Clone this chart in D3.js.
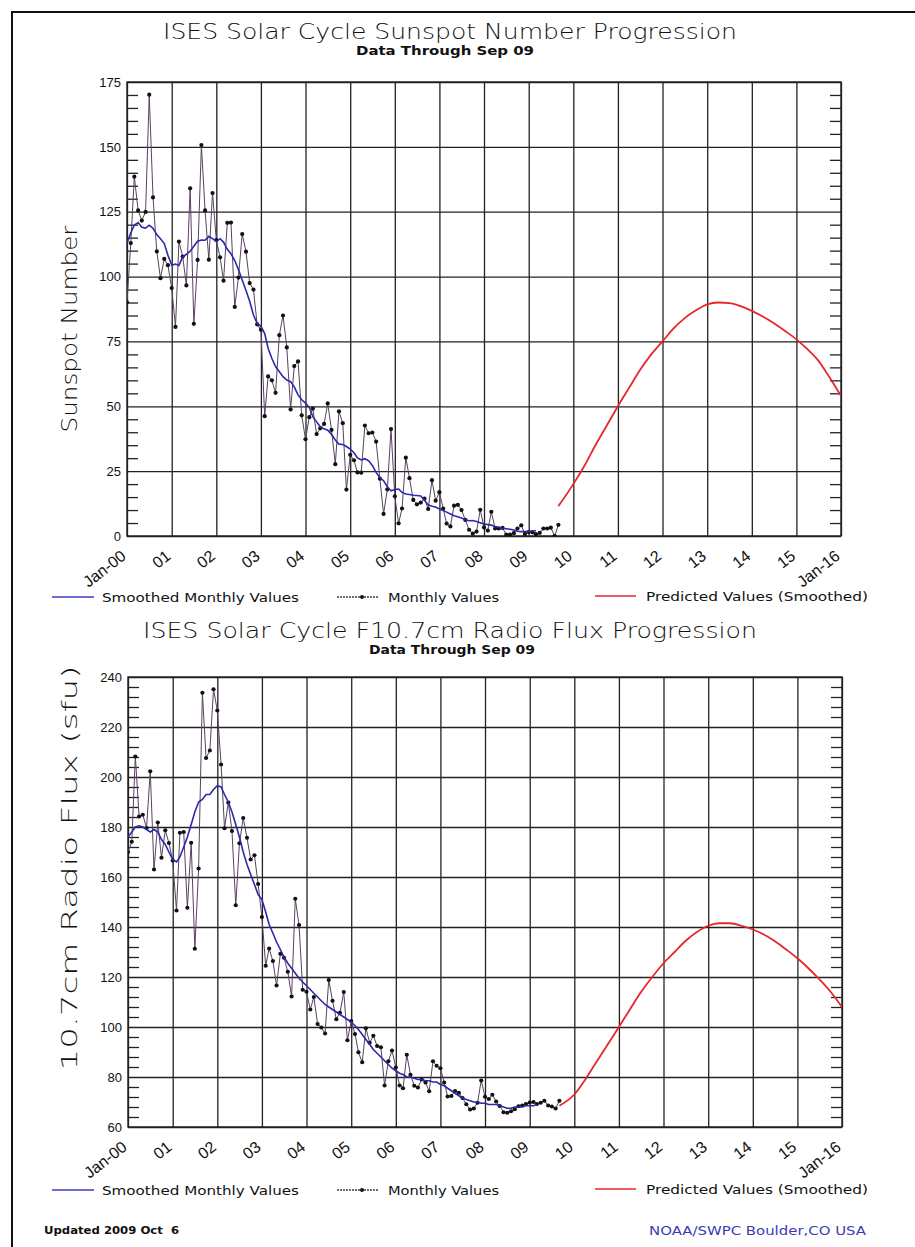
<!DOCTYPE html>
<html>
<head>
<meta charset="utf-8">
<script src="https://cdn.jsdelivr.net/npm/d3@7"></script>
<style>
  body { margin: 0; background: #fff; }
  text { font-family: "DejaVu Sans", "Liberation Sans", sans-serif; fill: #111; }
  .thin { font-weight: 200; }
  .cond { font-family: "DejaVu Sans Condensed", "DejaVu Sans", sans-serif; }
</style>
</head>
<body>
<svg width="915" height="1247"></svg>
<script>
// monthly values, Jan 2000 .. Sep 2009
const sunMonthly = [
  90.1, 112.9, 138.5, 125.5, 121.6, 124.9, 170.1, 130.5, 109.7, 99.4, 106.8, 104.4,
  95.6, 80.6, 113.5, 107.7, 96.6, 134.0, 81.8, 106.4, 150.7, 125.5, 106.5, 132.2,
  114.1, 107.4, 98.4, 120.7, 120.8, 88.3, 99.6, 116.4, 109.6, 97.5, 95.0, 81.6,
  79.5, 46.2, 61.5, 60.0, 55.2, 77.4, 85.0, 72.7, 48.8, 65.5, 67.3, 46.5,
  37.3, 45.8, 49.1, 39.3, 41.5, 43.2, 51.1, 40.9, 27.7, 48.0, 43.5, 17.9,
  31.3, 29.2, 24.5, 24.4, 42.6, 39.6, 39.9, 36.4, 22.1, 8.5, 18.0, 41.2,
  15.3, 4.9, 10.6, 30.2, 22.3, 13.9, 12.2, 12.9, 14.4, 10.4, 21.5, 13.6,
  16.9, 10.6, 4.8, 3.7, 11.7, 12.0, 10.0, 6.2, 2.4, 0.9, 1.7, 10.1,
  3.3, 2.1, 9.3, 2.9, 2.9, 3.1, 0.5, 0.5, 1.1, 2.9, 4.1, 0.8,
  1.5, 1.4, 0.7, 1.2, 2.9, 2.9, 3.2, 0.0, 4.3
];
// smoothed values, Jan 2000 .. Mar 2009
const sunSmoothed = [
  112.9, 116.8, 119.9, 120.8, 119.0, 118.7, 119.8, 118.6, 116.2, 114.6, 112.7, 108.2,
  104.4, 104.8, 104.3, 107.6, 108.6, 109.8, 111.7, 113.6, 114.1, 114.0, 115.5, 114.6,
  113.5, 114.6, 113.3, 110.5, 108.8, 106.2, 102.7, 98.7, 94.6, 90.5, 85.2, 82.0,
  80.8, 78.0, 72.4, 68.4, 65.3, 63.3, 61.4, 60.1, 59.5, 57.5, 54.4, 52.5,
  51.2, 49.5, 46.0, 44.0, 42.1, 41.3, 40.8, 39.1, 37.0, 35.4, 35.3, 34.5,
  33.5, 32.1, 30.1, 29.3, 29.8, 29.0, 27.2, 24.5, 22.5, 21.3, 19.0, 17.4,
  17.9, 18.1, 16.8, 16.2, 16.0, 15.7, 15.6, 15.4, 13.8, 12.0, 11.5, 11.2,
  10.4, 9.8, 9.2, 8.5, 7.8, 7.4, 6.9, 6.3, 5.9, 6.0, 5.6, 5.1,
  4.6, 4.4, 4.2, 3.6, 3.4, 3.0, 2.8, 2.6, 2.3, 1.8, 1.7, 1.7,
  1.8, 1.9, 2.0
];
const sunPredDates = [
  "2009-09", "2010-01", "2010-04", "2010-07", "2010-10", "2011-01", "2011-04", "2011-07", "2011-10",
  "2012-01", "2012-04", "2012-07", "2012-10", "2013-01", "2013-04", "2013-07", "2013-10",
  "2014-01", "2014-04", "2014-07", "2014-10", "2015-01", "2015-04", "2015-07", "2015-10", "2016-01"
];
const sunPredicted = [
  11.5, 20, 27, 35, 42.5, 50, 57, 64, 70,
  75, 80, 84, 87, 89.3, 90, 89.8, 88.6,
  86.8, 84.6, 82, 79, 75.8, 72, 67.5, 61, 54
];

const fluxMonthly = [
  170, 174.1, 208.2, 184.2, 184.9, 179.6, 202.3, 163.0, 181.8, 167.7, 178.7, 173.6,
  166.6, 146.6, 177.7, 178.0, 147.7, 173.7, 131.3, 163.4, 233.7, 207.6, 210.6, 235.1,
  226.6, 205.0, 179.5, 189.8, 178.4, 148.7, 173.5, 183.6, 175.7, 167.0, 168.7, 157.2,
  144.0, 124.5, 131.4, 126.4, 116.6, 129.3, 127.7, 122.1, 112.2, 151.3, 140.8, 114.9,
  114.1, 107.0, 112.0, 101.2, 99.8, 97.4, 118.8, 110.5, 103.1, 105.7, 114.0, 94.7,
  102.4, 97.2, 89.9, 85.9, 99.5, 93.7, 96.5, 92.4, 91.9, 76.6, 86.3, 90.6,
  83.8, 76.6, 75.5, 88.9, 80.9, 76.5, 75.8, 79.0, 77.8, 74.3, 86.3, 84.5,
  83.5, 77.8, 72.2, 72.4, 74.4, 73.7, 71.6, 69.1, 67.0, 67.4, 69.7, 78.6,
  72.1, 71.2, 72.9, 70.2, 68.4, 65.9, 65.7, 66.3, 67.1, 68.3, 68.6, 69.2,
  69.8, 70.0, 69.2, 69.7, 70.5, 68.6, 68.2, 67.4, 70.5
];
const fluxSmoothed = [
  176, 178, 180, 180.5, 180, 179, 178, 179, 178, 175, 173, 170,
  167, 166, 168, 172, 176, 181, 186, 190, 191, 193, 193, 195,
  196.5, 196, 193, 190, 186, 181, 176, 170, 165, 161, 157, 153,
  151, 146, 141, 137.5, 134, 131, 128, 125.5, 123.5, 121.5, 119.5, 118,
  116.5, 115, 113.5, 112, 110.5, 109, 108, 107, 106, 105, 104, 103,
  102, 100.5, 99, 97, 95, 93, 91, 89.5, 88, 86.5, 85, 83.5,
  82.5, 81.5, 81, 80, 80, 79.5, 79, 79, 78.5, 78.5, 78, 78,
  77, 76.5, 75.5, 74.5, 73.5, 72.5, 71.5, 71, 70.5, 70, 70, 69.5,
  69.5, 69, 69, 69, 68.5, 68, 67.5, 67.5, 68, 68, 68, 68.5,
  68.5, 68.5, 69
];
const fluxPredDates = sunPredDates;
const fluxPredicted = [
  68.5, 73, 79, 86, 93, 100, 107, 114, 120,
  125.5, 130, 134.5, 138, 140.5, 141.5, 141.5, 140.5,
  139, 137, 134.3, 131, 127.5, 123.5, 119, 114, 108
];

const yearLabels = ["Jan-00", "01", "02", "03", "04", "05", "06", "07", "08",
  "09", "10", "11", "12", "13", "14", "15", "Jan-16"];
const sunTicks = [0, 25, 50, 75, 100, 125, 150, 175];
const fluxTicks = [60, 80, 100, 120, 140, 160, 180, 200, 220, 240];

const svg = d3.select("svg");
const parseMonth = d3.timeParse("%Y-%m");
const years = d3.range(2000, 2017).map((y) => new Date(y, 0, 1));

// page frame
svg.append("rect")
  .attr("x", 12).attr("y", 12)
  .attr("width", 920).attr("height", 1250)
  .attr("fill", "none").attr("stroke", "#111").attr("stroke-width", 2);

function drawPanel(p) {
  const x = d3.scaleTime()
    .domain([years[0], years[years.length - 1]])
    .range([p.left, p.right]);
  const y = d3.scaleLinear().domain(p.yDomain).range([p.bottom, p.top]);
  const g = svg.append("g");

  // grid
  g.append("g")
    .attr("transform", `translate(0,${p.bottom})`)
    .call(d3.axisBottom(x).tickValues(years).tickSize(-(p.bottom - p.top)).tickFormat(""))
    .call((a) => a.select(".domain").remove())
    .call((a) => a.selectAll("line").attr("stroke", "#222").attr("stroke-width", 1.3));
  g.append("g")
    .attr("transform", `translate(${p.left},0)`)
    .call(d3.axisLeft(y).tickValues(p.ticks).tickSize(-(p.right - p.left)).tickFormat(""))
    .call((a) => a.select(".domain").remove())
    .call((a) => a.selectAll("line").attr("stroke", "#222").attr("stroke-width", 1.3));

  // minor ticks on both sides
  const minor = d3.range(p.yDomain[0], p.yDomain[1], p.minorStep)
    .filter((v) => !p.ticks.includes(v));
  g.append("g")
    .attr("transform", `translate(${p.left},0)`)
    .call(d3.axisLeft(y).tickValues(minor).tickSize(-11).tickFormat(""))
    .call((a) => a.select(".domain").remove())
    .call((a) => a.selectAll("line").attr("stroke", "#222").attr("stroke-width", 1.3));
  g.append("g")
    .attr("transform", `translate(${p.right},0)`)
    .call(d3.axisRight(y).tickValues(minor).tickSize(-11).tickFormat(""))
    .call((a) => a.select(".domain").remove())
    .call((a) => a.selectAll("line").attr("stroke", "#222").attr("stroke-width", 1.3));

  g.append("rect")
    .attr("x", p.left).attr("y", p.top)
    .attr("width", p.right - p.left).attr("height", p.bottom - p.top)
    .attr("fill", "none").attr("stroke", "#222").attr("stroke-width", 1.4);

  // y tick labels
  g.append("g")
    .attr("transform", `translate(${p.left},0)`)
    .call(d3.axisLeft(y).tickValues(p.ticks).tickSize(0).tickPadding(6))
    .call((a) => a.select(".domain").remove())
    .call((a) => a.selectAll("text")
      .style("font-family", "'Liberation Sans', sans-serif")
      .style("font-size", "13px").attr("fill", "#111"));

  // x tick labels (rotated)
  g.selectAll(".xl")
    .data(years)
    .enter()
    .append("text")
    .attr("class", "xl")
    .attr("transform", (d) => `translate(${x(d)},${p.bottom + 22}) rotate(-38)`)
    .attr("text-anchor", "end")
    .style("font-family", "'Liberation Sans', sans-serif")
    .style("font-size", "16px")
    .text((d, i) => yearLabels[i]);

  // data
  const monthly = p.monthly.map((v, i) => ({ date: new Date(2000, i, 1), v }));
  const smooth = p.smoothed.map((v, i) => ({ date: new Date(2000, i, 1), v }));
  const pred = p.predDates.map((d, i) => ({ date: parseMonth(d), v: p.predicted[i] }));

  const line = d3.line().x((d) => x(d.date)).y((d) => y(d.v));
  const clipId = "clip" + p.id;
  svg.append("clipPath").attr("id", clipId).append("rect")
    .attr("x", p.left).attr("y", p.top - 2)
    .attr("width", p.right - p.left).attr("height", p.bottom - p.top + 2);
  const data = g.append("g").attr("clip-path", `url(#${clipId})`);

  data.append("path").datum(monthly)
    .attr("d", line)
    .attr("fill", "none").attr("stroke", "#5a4060").attr("stroke-width", 1);
  data.selectAll(".dot").data(monthly).enter().append("circle")
    .attr("class", "dot")
    .attr("cx", (d) => x(d.date)).attr("cy", (d) => y(d.v))
    .attr("r", 2.1).attr("fill", "#111");
  data.append("path").datum(smooth)
    .attr("d", line)
    .attr("fill", "none").attr("stroke", "#2a2aa8").attr("stroke-width", 1.6);
  data.append("path").datum(pred)
    .attr("d", line.curve(d3.curveMonotoneX))
    .attr("fill", "none").attr("stroke", "#e8262a").attr("stroke-width", 1.8);

  // titles
  svg.append("text")
    .attr("class", "thin")
    .attr("x", 450).attr("y", p.titleY)
    .attr("text-anchor", "middle")
    .attr("textLength", p.titleLen).attr("lengthAdjust", "spacingAndGlyphs")
    .style("font-size", "22px")
    .text(p.title);
  svg.append("text")
    .attr("class", "cond")
    .attr("x", p.subX).attr("y", p.titleY + 16)
    .attr("text-anchor", "middle")
    .attr("textLength", p.subLen).attr("lengthAdjust", "spacingAndGlyphs")
    .style("font-size", "12px").style("font-weight", "bold")
    .text("Data Through Sep 09");

  svg.append("text")
    .attr("class", "thin")
    .attr("transform", `translate(77,${p.labelY}) rotate(-90)`)
    .attr("text-anchor", "middle")
    .attr("textLength", p.labelLen).attr("lengthAdjust", "spacingAndGlyphs")
    .style("font-size", "21px")
    .text(p.ylabel);

  // legend
  const ly = p.legendY;
  const lg = svg.append("g");
  lg.append("line").attr("x1", 52).attr("x2", 94).attr("y1", ly).attr("y2", ly)
    .attr("stroke", "#3c3cc0").attr("stroke-width", 1.3);
  lg.append("text").attr("x", 102).attr("y", ly + 5)
    .attr("textLength", 197).attr("lengthAdjust", "spacingAndGlyphs")
    .style("font-size", "13px").text("Smoothed Monthly Values");
  lg.append("line").attr("x1", 337).attr("x2", 379).attr("y1", ly).attr("y2", ly)
    .attr("stroke", "#4b3350").attr("stroke-width", 1.3).attr("stroke-dasharray", "2,1");
  lg.append("circle").attr("cx", 362).attr("cy", ly).attr("r", 2).attr("fill", "#111");
  lg.append("text").attr("x", 388).attr("y", ly + 5)
    .attr("textLength", 111).attr("lengthAdjust", "spacingAndGlyphs")
    .style("font-size", "13px").text("Monthly Values");
  lg.append("line").attr("x1", 595).attr("x2", 636).attr("y1", ly - 1).attr("y2", ly - 1)
    .attr("stroke", "#e8262a").attr("stroke-width", 1.4);
  lg.append("text").attr("x", 646).attr("y", ly + 4)
    .attr("textLength", 222).attr("lengthAdjust", "spacingAndGlyphs")
    .style("font-size", "13px").text("Predicted Values (Smoothed)");
}

drawPanel({
  id: 1, left: 127, right: 841, top: 82, bottom: 536,
  yDomain: [0, 175], ticks: sunTicks, minorStep: 5,
  monthly: sunMonthly, smoothed: sunSmoothed,
  predDates: sunPredDates, predicted: sunPredicted,
  title: "ISES Solar Cycle Sunspot Number Progression", titleY: 39, titleLen: 574,
  subX: 445, subLen: 178,
  ylabel: "Sunspot Number", labelY: 329, labelLen: 207,
  legendY: 597
});

drawPanel({
  id: 2, left: 128, right: 842, top: 677, bottom: 1127,
  yDomain: [60, 240], ticks: fluxTicks, minorStep: 4,
  monthly: fluxMonthly, smoothed: fluxSmoothed,
  predDates: fluxPredDates, predicted: fluxPredicted,
  title: "ISES Solar Cycle F10.7cm Radio Flux Progression", titleY: 638, titleLen: 614,
  subX: 452, subLen: 166,
  ylabel: "10.7cm Radio Flux (sfu)", labelY: 868, labelLen: 405,
  legendY: 1190
});

// footer
svg.append("text")
  .attr("class", "cond")
  .attr("x", 44).attr("y", 1234)
  .attr("textLength", 135).attr("lengthAdjust", "spacingAndGlyphs")
  .style("font-size", "11px").style("font-weight", "bold")
  .style("white-space", "pre")
  .text("Updated 2009 Oct  6");
svg.append("text")
  .attr("x", 649).attr("y", 1235)
  .attr("textLength", 217).attr("lengthAdjust", "spacingAndGlyphs")
  .style("font-size", "13px").style("fill", "#3b3bb5")
  .text("NOAA/SWPC Boulder,CO USA");
</script>
</body>
</html>
